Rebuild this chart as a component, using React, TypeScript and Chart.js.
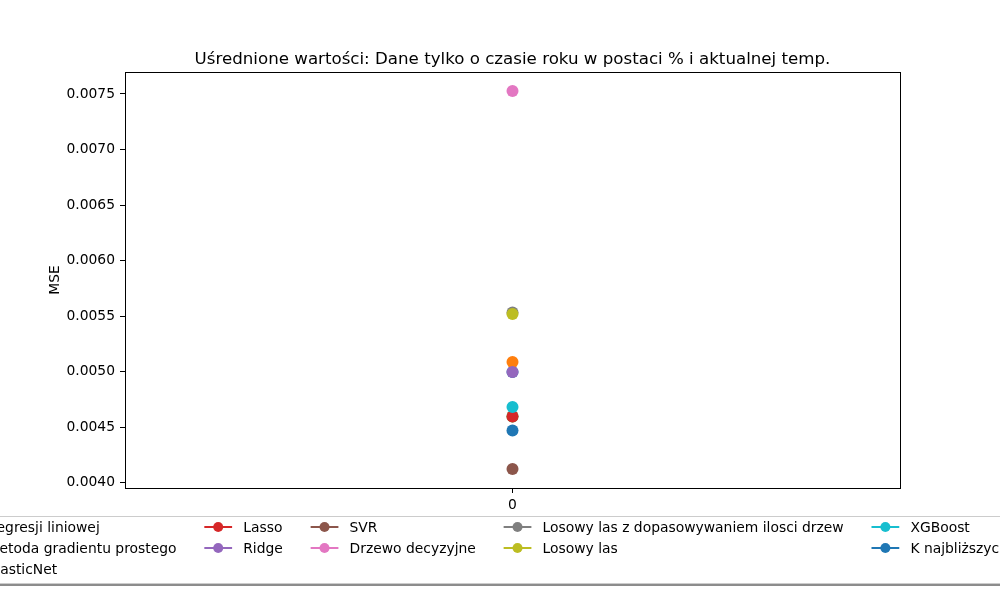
import React, { useEffect, useRef } from "react";
import { Chart, registerables } from "chart.js";

Chart.register(...registerables);

const categories = ["0"];
const modelNames = [
  "Regresji liniowej",
  "Metoda gradientu prostego",
  "ElasticNet",
  "Lasso",
  "Ridge",
  "SVR",
  "Drzewo decyzyjne",
  "Losowy las z dopasowywaniem ilosci drzew",
  "Losowy las",
  "XGBoost",
  "K najbliższych sąsiadów",
];
const mseValues = [
  0.004996, 0.005086, 0.004597, 0.004597, 0.004996, 0.004123, 0.007527,
  0.005532, 0.005518, 0.004681, 0.004471,
];
const colors = [
  "#1f77b4", "#ff7f0e", "#2ca02c", "#d62728", "#9467bd", "#8c564b",
  "#e377c2", "#7f7f7f", "#bcbd22", "#17becf", "#1f77b4",
];
const yTickStep = 0.0005;
const titleText =
  "Uśrednione wartości: Dane tylko o czasie roku w postaci % i aktualnej temp.";
const yAxisTitle = "MSE";

const FONT = "DejaVu Sans";
const FS = 13.89;

const overlayPlugin = {
  id: "overlay",
  afterDraw(chart: any) {
    const ctx = chart.ctx as CanvasRenderingContext2D;
    const ca = chart.chartArea;
    ctx.save();
    ctx.strokeStyle = "#000";
    ctx.lineWidth = 1;
    ctx.strokeRect(
      Math.round(ca.left) + 0.5,
      Math.round(ca.top) + 0.5,
      Math.round(ca.right - ca.left),
      Math.round(ca.bottom - ca.top)
    );
    ctx.fillStyle = "#000";
    ctx.font = `16.67px "${FONT}"`;
    ctx.textAlign = "center";
    ctx.textBaseline = "alphabetic";
    const cx = (ca.left + ca.right) / 2;
    ctx.fillText(titleText, cx, ca.top - 8.3);
    ctx.font = `${FS}px "${FONT}"`;
    ctx.save();
    ctx.translate(55, (ca.top + ca.bottom) / 2);
    ctx.rotate(-Math.PI / 2);
    ctx.textBaseline = "middle";
    ctx.fillText(yAxisTitle, 0, 0);
    ctx.restore();

    const ds = chart.data.datasets;
    const n = ds.length;
    const ncol = 5;
    const base = Math.floor(n / ncol);
    const extra = n % ncol;
    const cols: number[][] = [];
    let idx = 0;
    for (let c = 0; c < ncol; c++) {
      const cnt = base + (c < extra ? 1 : 0);
      const arr: number[] = [];
      for (let k = 0; k < cnt; k++) arr.push(idx++);
      cols.push(arr);
    }
    const handleLen = 2 * FS;
    const handlePad = 0.8 * FS;
    const colSpacing = 2 * FS;
    const borderPad = 0.4 * FS;
    const rowH = 21;
    ctx.font = `${FS}px "${FONT}"`;
    const widths = cols.map((arr) =>
      Math.max(...arr.map((i) => ctx.measureText(ds[i].label).width))
    );
    const colW = widths.map((w) => handleLen + handlePad + w);
    const total =
      colW.reduce((a, b) => a + b, 0) + colSpacing * (ncol - 1) + 2 * borderPad;
    const left = cx - total / 2;
    const top = 516;
    const bottom = 583;
    ctx.fillStyle = "rgba(0,0,0,0.45)";
    ctx.fillRect(left + 3, top + 3, total, bottom - top);
    ctx.fillStyle = "#fff";
    ctx.fillRect(left, top, total, bottom - top);
    ctx.strokeStyle = "#cccccc";
    ctx.lineWidth = 1;
    ctx.strokeRect(left, top + 0.5, total, bottom - top);
    let x = left + borderPad;
    cols.forEach((arr, c) => {
      arr.forEach((i, r) => {
        const y = 527 + r * rowH;
        const col = ds[i].borderColor;
        ctx.strokeStyle = col;
        ctx.lineWidth = 2;
        ctx.beginPath();
        ctx.moveTo(x, y);
        ctx.lineTo(x + handleLen, y);
        ctx.stroke();
        ctx.fillStyle = col;
        ctx.beginPath();
        ctx.arc(x + handleLen / 2, y, 5, 0, Math.PI * 2);
        ctx.fill();
        ctx.fillStyle = "#000";
        ctx.textAlign = "left";
        ctx.textBaseline = "middle";
        ctx.fillText(ds[i].label, x + handleLen + handlePad, y + 1);
      });
      x += colW[c] + colSpacing;
    });
    ctx.restore();
  },
};

export default function App() {
  const ref = useRef<HTMLCanvasElement>(null);
  useEffect(() => {
    document.body.style.margin = "0";
    const canvas = ref.current!;
    const vmin = Math.min(...mseValues);
    const vmax = Math.max(...mseValues);
    const pad = (vmax - vmin) * 0.05;
    const n = modelNames.length;
    const chart = new Chart(canvas, {
      type: "line",
      data: {
        labels: categories,
        datasets: modelNames.map((name, i) => ({
          label: name,
          data: [mseValues[i]],
          order: n - i,
          borderColor: colors[i],
          backgroundColor: colors[i],
          pointBackgroundColor: colors[i],
          pointBorderColor: colors[i],
          pointRadius: 6,
          pointBorderWidth: 0,
          borderWidth: 2,
          showLine: false,
        })),
      },
      options: {
        animation: false,
        responsive: false,
        maintainAspectRatio: false,
        layout: { padding: { left: 0, right: 100, top: 72, bottom: 0 } },
        plugins: {
          legend: { display: false },
          title: { display: false },
          tooltip: { enabled: false },
        },
        scales: {
          x: {
            type: "category",
            offset: true,
            afterFit: (s: any) => {
              s.height = 112;
            },
            grid: {
              display: true,
              drawOnChartArea: false,
              drawTicks: true,
              tickLength: 5,
              color: "#000",
            },
            border: { display: true, color: "#000" },
            ticks: {
              color: "#000",
              padding: 4,
              font: { family: FONT, size: FS },
            },
          },
          y: {
            type: "linear",
            min: vmin - pad,
            max: vmax + pad,
            afterFit: (s: any) => {
              s.width = 125;
            },
            grid: {
              display: true,
              drawOnChartArea: false,
              drawTicks: true,
              tickLength: 5,
              color: "#000",
            },
            border: { display: true, color: "#000" },
            ticks: {
              stepSize: yTickStep,
              includeBounds: false,
              color: "#000",
              padding: 5,
              font: { family: FONT, size: FS },
              callback: (v: any) => Number(v).toFixed(4),
            },
          },
        },
      },
      plugins: [overlayPlugin],
    });
    return () => chart.destroy();
  }, []);
  return (
    <div style={{ position: "absolute", left: 0, top: 0, width: 1000, height: 600, overflow: "hidden", background: "#fff" }}>
      <canvas ref={ref} width={1000} height={600} style={{ width: 1000, height: 600, display: "block" }} />
    </div>
  );
}
